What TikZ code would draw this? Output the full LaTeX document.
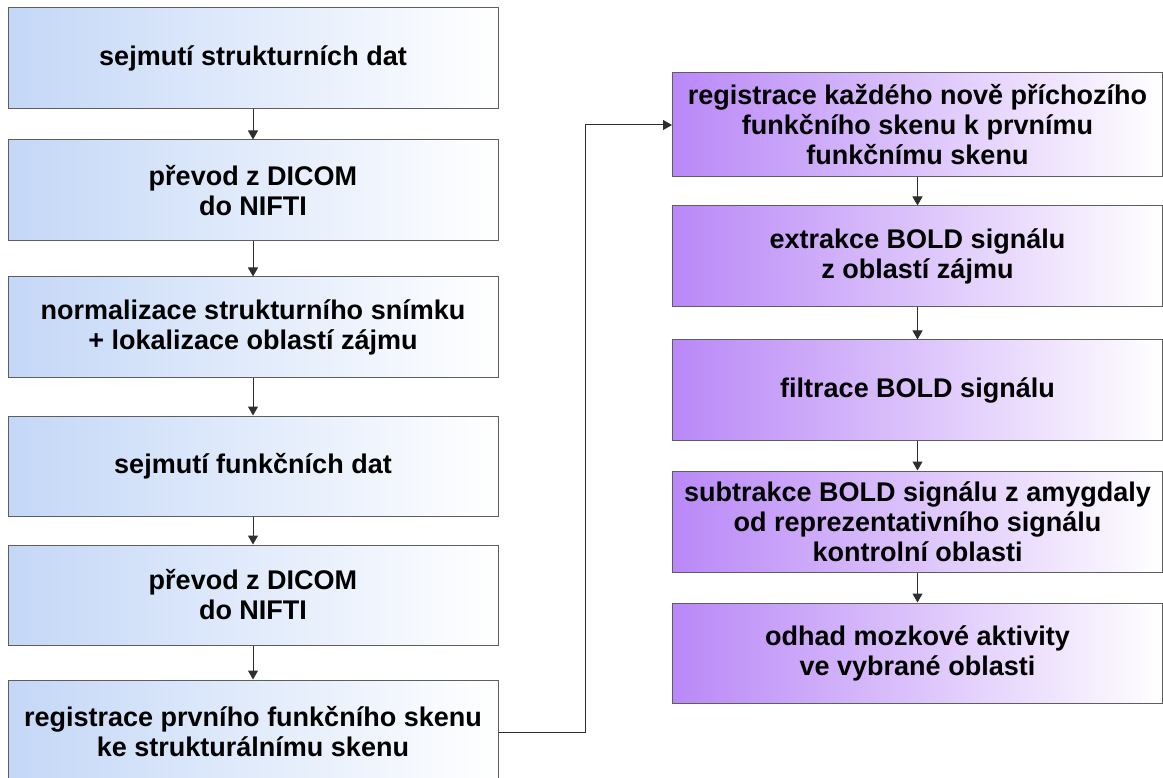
\documentclass[tikz,border=0pt]{standalone}
\usepackage{fontspec}
\setmainfont{Liberation Sans}
\usepackage{xcolor}
\usepackage{tikz}
\usetikzlibrary{calc,arrows.meta}
\definecolor{edge}{HTML}{5E5E5E}
\definecolor{wire}{HTML}{2E2E2E}
\definecolor{pale}{HTML}{C4D7F7}
\definecolor{lila}{HTML}{B988F7}
\tikzset{
  box/.style={draw=edge, line width=1pt, minimum width=490pt, align=center,
    font=\fontsize{27}{30}\selectfont\bfseries, inner sep=0pt},
  lbox/.style={box, left color=pale, right color=white},
  rbox/.style={box, left color=lila, right color=white},
  arr/.style={draw=wire, line width=1pt, -{Triangle[length=9pt,width=10pt]}},
}

\begin{document}
\begin{tikzpicture}[x=1pt,y=-1pt]
  \useasboundingbox (0,0) rectangle (1163,778);
  \clip (0,0) rectangle (1163,778);

  % left column
  \node[lbox,minimum height=101pt] (l1) at (253,58.5) {sejmutí strukturních dat};
  \node[lbox,minimum height=101pt] (l2) at (253,190.5) {převod z DICOM\\do NIFTI};
  \node[lbox,minimum height=100pt] (l3) at (253,327) {normalizace strukturního snímku\\+ lokalizace oblastí zájmu};
  \node[lbox,minimum height=100pt] (l4) at (253,466) {sejmutí funkčních dat};
  \node[lbox,minimum height=100pt] (l5) at (253,595) {převod z DICOM\\do NIFTI};
  \node[lbox,minimum height=104pt] (l6) at (253,732) {registrace prvního funkčního skenu\\ke strukturálnímu skenu};

  % right column
  \node[rbox,minimum height=104pt] (r1) at (917.5,125) {registrace každého nově příchozího\\funkčního skenu k prvnímu\\funkčnímu skenu};
  \node[rbox,minimum height=101pt] (r2) at (917.5,256.5) {extrakce BOLD signálu\\z oblastí zájmu};
  \node[rbox,minimum height=100pt] (r3) at (917.5,390) {filtrace BOLD signálu};
  \node[rbox,minimum height=101pt] (r4) at (917.5,521.5) {subtrakce BOLD signálu z amygdaly\\od reprezentativního signálu\\kontrolní oblasti};
  \node[rbox,minimum height=100pt] (r5) at (917.5,653) {odhad mozkové aktivity\\ve vybrané oblasti};

  \foreach \a/\b in {l1/l2,l2/l3,l3/l4,l4/l5,l5/l6,r1/r2,r2/r3,r3/r4,r4/r5}
    \draw[arr] (\a) -- (\b);

  \coordinate (knee) at (585,125);
  \draw[arr] (l6.east) -| (knee) -- (r1.west);
\end{tikzpicture}
\end{document}
